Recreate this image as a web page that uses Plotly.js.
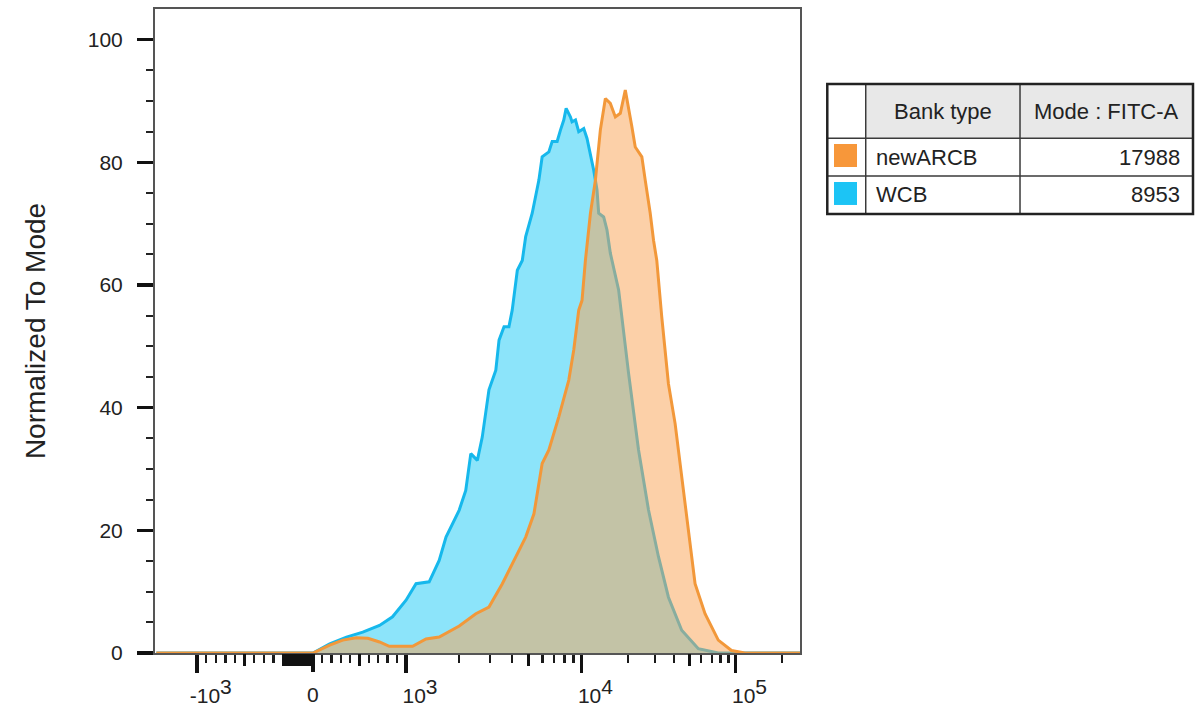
<!DOCTYPE html>
<html>
<head>
<meta charset="utf-8">
<script src="https://cdn.plot.ly/plotly-3.0.1.min.js"></script>
<style>html,body{margin:0;padding:0;background:#fff;}#chart{width:1204px;height:715px;}</style>
</head>
<body>
<div id="chart"></div>
<script>
// ---------- data (FITC-A intensity vs. % of mode) ----------
const SERIES_NAMES = ['newARCB', 'WCB'];
const MODE_VALUES = [17988, 8953];
const TABLE_HEADERS = ['Bank type', 'Mode : FITC-A'];

const WCB_X = [-1700, 0, 180, 360, 535, 715, 855, 1000, 1140, 1355, 1545, 1690, 2010, 2190, 2340, 2550, 2720, 2970,
  3250, 3390, 3620, 3860, 4030, 4310, 4600, 4810, 5240, 5720, 5970, 6520, 6810, 7270, 7600, 7930, 8180, 8660, 8840, 9250,
  9650, 10350, 10870, 11440, 12010, 12620, 12940, 13940, 14640, 15400, 17430, 20230, 23480, 27250, 31620, 36700, 44740,
  57370, 77270, 262144];
const WCB_Y = [0, 0, 1.5, 2.6, 3.4, 4.5, 5.9, 8.6, 11.3, 11.6, 15.1, 18.9, 23.3, 26.5, 32.5, 31.4, 35.2, 42.9,
  46.1, 51.0, 53.2, 53.2, 55.9, 62.4, 64.0, 67.9, 71.7, 77.1, 80.9, 81.7, 83.4, 83.4, 85.3, 86.9, 88.8, 87.4, 86.6, 86.9,
  85.0, 85.5, 83.9, 81.5, 78.7, 75.5, 71.7, 71.1, 69.0, 65.2, 59.2, 45.6, 33.1, 23.3, 15.7, 9.1, 3.7,
  0.7, 0, 0];

const ARCB_X = [-1700, 0, 180, 320, 465, 590, 715, 820, 1090, 1300, 1545, 2010, 2500, 2970, 3540, 4220, 4810, 5360,
  5720, 5970, 6520, 7430, 8470, 9040, 9650, 10090, 10610, 11440, 12320, 13270, 14300, 15400, 16600, 17880, 19260,
  20230, 21250, 22350, 24660, 25940, 27950, 29370, 30830, 33210, 36700, 40550, 44740, 49430, 54630, 63400, 77270,
  94200, 115000, 262144];
const ARCB_Y = [0, 0, 1.3, 2.1, 2.5, 2.4, 1.8, 1.1, 1.1, 2.3, 2.6, 4.4, 6.4, 7.5, 11.3, 15.7, 18.9, 22.7,
  27.6, 30.9, 33.1, 38.5, 44.5, 49.4, 55.9, 57.5, 64.0, 71.7, 77.1, 85.3, 90.4, 89.6, 87.4, 88.0, 91.8,
  89.1, 85.8, 82.5, 80.9, 77.1, 71.7, 67.3, 64.0, 54.8, 43.9, 37.4, 28.7, 19.5, 11.3, 6.4, 2.1,
  0.4, 0, 0];

// axis ticks (intensity values)
const X_LIMITS = [-1730, 262144];
const DECADE_TICKS = [-1000, 1000, 10000, 100000];
const DECADE_TEXT = ['-10<sup><span style="font-size:21px">3</span></sup>', '10<sup><span style="font-size:21px">3</span></sup>',
  '10<sup><span style="font-size:21px">4</span></sup>', '10<sup><span style="font-size:21px">5</span></sup>'];
const ZERO_TICK = [0];
const ZERO_TEXT = ['0'];
const MID_TICKS = [-500, -100, 500, 5000, 50000];
const NEAR_ZERO_TICKS = [-90, -80, -70, -60, -50, -40, -30, -20, -10];
const MINOR_TICKS = [-900, -800, -700, -600, -400, -300, -200,
  100, 200, 300, 400, 600, 700, 800, 900, 2000, 3000, 4000, 6000, 7000, 8000, 9000,
  20000, 30000, 40000, 60000, 70000, 80000, 90000, 200000];
const Y_MAJOR = [0, 20, 40, 60, 80, 100];
const Y_MINOR = [5, 10, 15, 25, 30, 35, 45, 50, 55, 65, 70, 75, 85, 90, 95];

// ---------- biexponential-like display transform ----------
function toDisplay(v) {
  if (v >= 1e4) return 93.4 + 176 + 154.6 * Math.log10(v / 1e4);
  if (v >= 1e3) return 93.4 + 176 * Math.log10(v / 1e3);
  if (v >= 0) return 93.4 * v / 1e3;
  if (v >= -100) return -30 * (-v) / 100;
  if (v >= -1000) return -30 - 86.6 * ((-v) - 100) / 900;
  return -116.6 - 176 * Math.log10(-v / 1e3);
}
const xr = X_LIMITS.map(toDisplay);

const COLORS = {arcbLine: '#f2983a', arcbFill: 'rgba(249,161,81,0.5)', wcbLine: '#16b8ec', wcbFill: 'rgba(25,201,245,0.5)'};
const FONT = 'Liberation Sans, Arial, Helvetica, sans-serif';

const traces = [
  {x: WCB_X.map(toDisplay), y: WCB_Y, name: SERIES_NAMES[1], type: 'scatter', mode: 'lines', fill: 'tozeroy',
   fillcolor: COLORS.wcbFill, line: {color: COLORS.wcbLine, width: 3}, showlegend: false},
  {x: ARCB_X.map(toDisplay), y: ARCB_Y, name: SERIES_NAMES[0], type: 'scatter', mode: 'lines', fill: 'tozeroy',
   fillcolor: COLORS.arcbFill, line: {color: COLORS.arcbLine, width: 3}, showlegend: false},
  {x: [], y: [], xaxis: 'x2', yaxis: 'y', showlegend: false, hoverinfo: 'skip'},
  {x: [], y: [], xaxis: 'x3', yaxis: 'y', showlegend: false, hoverinfo: 'skip'}
];

// ---------- legend table ----------
const tx0 = 1.0423, tx1 = 1.6093, c1 = 1.1019, c2 = 1.3411;
const ty0 = 0.8835, th = 0.7992, tr1 = 0.7407, ty1 = 0.6817;
const shapes = [
  {type: 'rect', xref: 'paper', yref: 'paper', x0: c1, x1: tx1, y0: th, y1: ty0, fillcolor: '#e8e8e8', line: {width: 0}},
  {type: 'line', xref: 'paper', yref: 'paper', x0: c1, x1: c1, y0: ty1, y1: ty0, line: {color: '#3a3a3a', width: 1.5}},
  {type: 'line', xref: 'paper', yref: 'paper', x0: c2, x1: c2, y0: ty1, y1: ty0, line: {color: '#3a3a3a', width: 1.5}},
  {type: 'line', xref: 'paper', yref: 'paper', x0: tx0, x1: tx1, y0: th, y1: th, line: {color: '#3a3a3a', width: 1.5}},
  {type: 'line', xref: 'paper', yref: 'paper', x0: tx0, x1: tx1, y0: tr1, y1: tr1, line: {color: '#3a3a3a', width: 1.5}},
  {type: 'rect', xref: 'paper', yref: 'paper', x0: tx0, x1: tx1, y0: ty1, y1: ty0, line: {color: '#222', width: 2.5}},
  {type: 'rect', xref: 'paper', yref: 'paper', x0: 1.0527, x1: 1.0884, y0: 0.7547, y1: 0.7904, fillcolor: '#f7973a', line: {width: 0}},
  {type: 'rect', xref: 'paper', yref: 'paper', x0: 1.0527, x1: 1.0884, y0: 0.6957, y1: 0.7314, fillcolor: '#1cc4f5', line: {width: 0}}
];
const tf = {family: FONT, size: 22, color: '#222'};
const annotations = [
  {xref: 'paper', yref: 'paper', x: (c1 + c2) / 2, y: (th + ty0) / 2, text: TABLE_HEADERS[0], showarrow: false, xanchor: 'center', yanchor: 'middle', font: tf},
  {xref: 'paper', yref: 'paper', x: (c2 + tx1) / 2, y: (th + ty0) / 2, text: TABLE_HEADERS[1], showarrow: false, xanchor: 'center', yanchor: 'middle', font: tf},
  {xref: 'paper', yref: 'paper', x: 1.1140, y: (th + tr1) / 2, text: SERIES_NAMES[0], showarrow: false, xanchor: 'left', yanchor: 'middle', font: tf},
  {xref: 'paper', yref: 'paper', x: 1.1140, y: (tr1 + ty1) / 2, text: SERIES_NAMES[1], showarrow: false, xanchor: 'left', yanchor: 'middle', font: tf},
  {xref: 'paper', yref: 'paper', x: 1.5925, y: (th + tr1) / 2, text: String(MODE_VALUES[0]), showarrow: false, xanchor: 'right', yanchor: 'middle', font: tf},
  {xref: 'paper', yref: 'paper', x: 1.5925, y: (tr1 + ty1) / 2, text: String(MODE_VALUES[1]), showarrow: false, xanchor: 'right', yanchor: 'middle', font: tf}
];

const tickFont = {family: FONT, size: 21, color: '#222'};
const layout = {
  width: 1204, height: 715,
  margin: {l: 155, r: 404, t: 9, b: 62, pad: 0},
  paper_bgcolor: '#fff', plot_bgcolor: '#fff',
  font: {family: FONT, color: '#222'},
  showlegend: false,
  xaxis: {
    range: xr, showgrid: false, zeroline: false, showline: true, mirror: true, linecolor: '#555', linewidth: 2,
    tickmode: 'array', tickvals: DECADE_TICKS.map(toDisplay), ticktext: DECADE_TEXT,
    ticks: 'outside', ticklen: 18, tickwidth: 3.5, tickcolor: '#111', tickfont: tickFont, ticklabelshift: 14,
    ticklabelstandoff: 5,
    minor: {tickmode: 'array', tickvals: MINOR_TICKS.map(toDisplay), ticks: 'outside', ticklen: 8, tickwidth: 2.2, tickcolor: '#1a1a1a', showgrid: false}
  },
  xaxis2: {
    overlaying: 'x', anchor: 'y', side: 'bottom', range: xr, showgrid: false, zeroline: false, showline: false,
    tickmode: 'array', tickvals: MID_TICKS.map(toDisplay), showticklabels: false,
    ticks: 'outside', ticklen: 12, tickwidth: 3, tickcolor: '#111',
    minor: {tickmode: 'array', tickvals: NEAR_ZERO_TICKS.map(toDisplay), ticks: 'outside', ticklen: 12, tickwidth: 3, tickcolor: '#111', showgrid: false}
  },
  xaxis3: {
    overlaying: 'x', anchor: 'y', side: 'bottom', range: xr, showgrid: false, zeroline: false, showline: false,
    tickmode: 'array', tickvals: ZERO_TICK.map(toDisplay), ticktext: ZERO_TEXT,
    ticks: 'outside', ticklen: 18, tickwidth: 3.5, tickcolor: '#111', tickfont: tickFont, ticklabelstandoff: 5
  },
  yaxis: {
    range: [0, 105], showgrid: false, zeroline: false, showline: true, mirror: true, linecolor: '#555', linewidth: 2,
    tickmode: 'array', tickvals: Y_MAJOR, ticks: 'outside', ticklen: 16, tickwidth: 3.5, tickcolor: '#111',
    tickfont: tickFont, ticklabelstandoff: 10,
    minor: {tickmode: 'array', tickvals: Y_MINOR, ticks: 'outside', ticklen: 7, tickwidth: 2, tickcolor: '#222', showgrid: false},
    title: {text: 'Normalized To Mode', font: {family: FONT, size: 28, color: '#222'}, standoff: 34}
  },
  shapes: shapes,
  annotations: annotations
};

Plotly.newPlot('chart', traces, layout, {staticPlot: true, displayModeBar: false});
</script>
</body>
</html>
